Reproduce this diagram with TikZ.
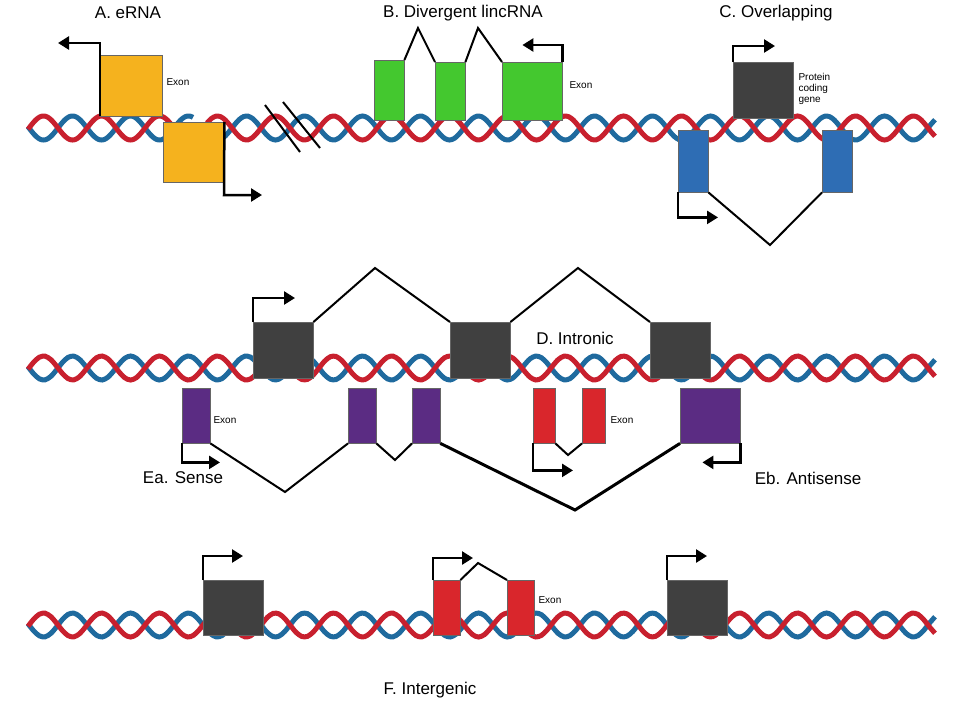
\documentclass[tikz,border=0pt]{standalone}
\usepackage{fontspec}
\setmainfont{Liberation Sans}
\usepackage{tikz}
\usetikzlibrary{arrows.meta}
\definecolor{strandred}{HTML}{C8202E}
\definecolor{strandblue}{HTML}{1F6A9E}
\definecolor{orangex}{HTML}{F5B21E}
\definecolor{greenx}{HTML}{44C82F}
\definecolor{greyx}{HTML}{404040}
\definecolor{bluex}{HTML}{2E6DB4}
\definecolor{purplex}{HTML}{5B2C83}
\definecolor{redx}{HTML}{D9262C}

\tikzset{
  exon/.style={draw=black!60, fill=#1, inner sep=0pt, anchor=north west},
  tss/.style={line width=2.5pt, -{Triangle[length=11pt,width=13pt]}},
  splice/.style={line width=2pt},
  title/.style={font=\fontsize{17}{19}\selectfont},
  small/.style={font=\fontsize{10}{11}\selectfont, anchor=west, align=left}
}
\newcommand{\helix}[3]{% y, xstart, xend
  \draw[strandblue, line width=5pt] plot[domain=#2:#3, samples=160, smooth] (\x, {#1-12*sin(\x/58*360)});
  \draw[strandred, line width=5pt] plot[domain=#2:#3, samples=160, smooth] (\x, {#1+12*sin(\x/58*360)});
}

\begin{document}
\begin{tikzpicture}[x=1pt, y=-1pt]
  \useasboundingbox (0,0) rectangle (957,705);

  % strands
  \helix{128}{28}{193}
  \helix{128}{207}{935}
  \helix{368}{28}{935}
  \helix{625}{28}{935}
  \draw[line width=2pt] (265,105) -- (300,152);
  \draw[line width=2pt] (283,102) -- (320,148);

  % A. eRNA
  \node[title] (ta) at (128,13) {A. eRNA};
  \node[exon=orangex, minimum width=62pt, minimum height=61pt] (a1) at (100,55) {};
  \node[exon=orangex, minimum width=61pt, minimum height=60pt] (a2) at (163,122) {};
  \node[small] (ea) at (163,82) {Exon};
  \coordinate (a1t) at (100,43);
  \coordinate (a2t) at (224,195);
  \draw[tss] (a1.south west) -- (a1t) -- ++(-42,0);
  \draw[tss] (a2.north east) -- (a2t) -- ++(38,0);

  % B. Divergent lincRNA
  \node[title] (tb) at (463,13) {B. Divergent lincRNA};
  \node[exon=greenx, minimum width=30pt, minimum height=60pt] (b1) at (374,60) {};
  \node[exon=greenx, minimum width=30pt, minimum height=58pt] (b2) at (435,62) {};
  \node[exon=greenx, minimum width=60pt, minimum height=58pt] (b3) at (502,62) {};
  \node[small] (eb) at (566,85) {Exon};
  \coordinate (bp1) at (418,28);
  \coordinate (bp2) at (478,28);
  \draw[splice] (b1.north east) -- (bp1) -- (b2.north west);
  \draw[splice] (b2.north east) -- (bp2) -- (b3.north west);
  \draw[tss] (b3.north east) -- ++(0,-17) -- ++(-40,0);

  % C. Overlapping
  \node[title] (tc) at (776,13) {C. Overlapping};
  \node[exon=greyx, minimum width=60pt, minimum height=56pt] (c0) at (733,62) {};
  \node[small] (pc) at (795,89) {Protein\\coding\\gene};
  \node[exon=bluex, minimum width=30pt, minimum height=62pt] (c1) at (678,130) {};
  \node[exon=bluex, minimum width=30pt, minimum height=62pt] (c2) at (822,130) {};
  \coordinate (cp) at (770,245);
  \draw[splice] (c1.south east) -- (cp) -- (c2.south west);
  \draw[tss] (c0.north west) -- ++(0,-16) -- ++(42,0);
  \draw[tss] (c1.south west) -- ++(0,25) -- ++(40,0);

  % D. Intronic
  \node[exon=greyx, minimum width=60pt, minimum height=56pt] (d1) at (253,322) {};
  \node[exon=greyx, minimum width=60pt, minimum height=56pt] (d2) at (450,322) {};
  \node[exon=greyx, minimum width=60pt, minimum height=56pt] (d3) at (650,322) {};
  \node[title] (td) at (575,338) {D. Intronic};
  \coordinate (dp1) at (375,268);
  \coordinate (dp2) at (578,268);
  \draw[splice] (d1.north east) -- (dp1) -- (d2.north west);
  \draw[splice] (d2.north east) -- (dp2) -- (d3.north west);
  \draw[tss] (d1.north west) -- ++(0,-24) -- ++(42,0);

  % Ea. Sense / Eb. Antisense
  \node[exon=purplex, minimum width=28pt, minimum height=55pt] (e1) at (182,388) {};
  \node[exon=purplex, minimum width=28pt, minimum height=55pt] (e2) at (348,388) {};
  \node[exon=purplex, minimum width=28pt, minimum height=55pt] (e3) at (412,388) {};
  \node[exon=purplex, minimum width=60pt, minimum height=55pt] (e4) at (680,388) {};
  \node[small] (ee) at (210,420) {Exon};
  \coordinate (ep1) at (285,492);
  \coordinate (ep2) at (395,460);
  \coordinate (ep3) at (575,510);
  \draw[splice] (e1.south east) -- (ep1) -- (e2.south west);
  \draw[splice] (e2.south east) -- (ep2) -- (e3.south west);
  \draw[line width=3pt] (e3.south east) -- (ep3) -- (e4.south west);
  \draw[tss] (e1.south west) -- ++(0,19) -- ++(38,0);
  \draw[tss] (e4.south east) -- ++(0,19) -- ++(-38,0);
  \node[exon=redx, minimum width=22pt, minimum height=55pt] (r1) at (533,388) {};
  \node[exon=redx, minimum width=23pt, minimum height=55pt] (r2) at (582,388) {};
  \node[small] (er) at (607,420) {Exon};
  \coordinate (rp) at (568,455);
  \draw[splice] (r1.south east) -- (rp) -- (r2.south west);
  \draw[tss] (r1.south west) -- ++(0,27) -- ++(40,0);
  \node[title] (tea) at (183,478) {Ea. Sense};
  \node[title] (teb) at (808,478) {Eb. Antisense};

  % F. Intergenic
  \node[exon=greyx, minimum width=60pt, minimum height=55pt] (f1) at (203,580) {};
  \node[exon=redx, minimum width=27pt, minimum height=55pt] (f2) at (433,580) {};
  \node[exon=redx, minimum width=27pt, minimum height=55pt] (f3) at (507,580) {};
  \node[exon=greyx, minimum width=60pt, minimum height=55pt] (f4) at (667,580) {};
  \node[small] (ef) at (535,600) {Exon};
  \coordinate (fp) at (478,563);
  \draw[splice] (f2.north east) -- (fp) -- (f3.north west);
  \draw[tss] (f1.north west) -- ++(0,-24) -- ++(40,0);
  \draw[tss] (f2.north west) -- ++(0,-22) -- ++(40,0);
  \draw[tss] (f4.north west) -- ++(0,-24) -- ++(40,0);
  \node[title] (tf) at (430,690) {F. Intergenic};
\end{tikzpicture}
\end{document}
